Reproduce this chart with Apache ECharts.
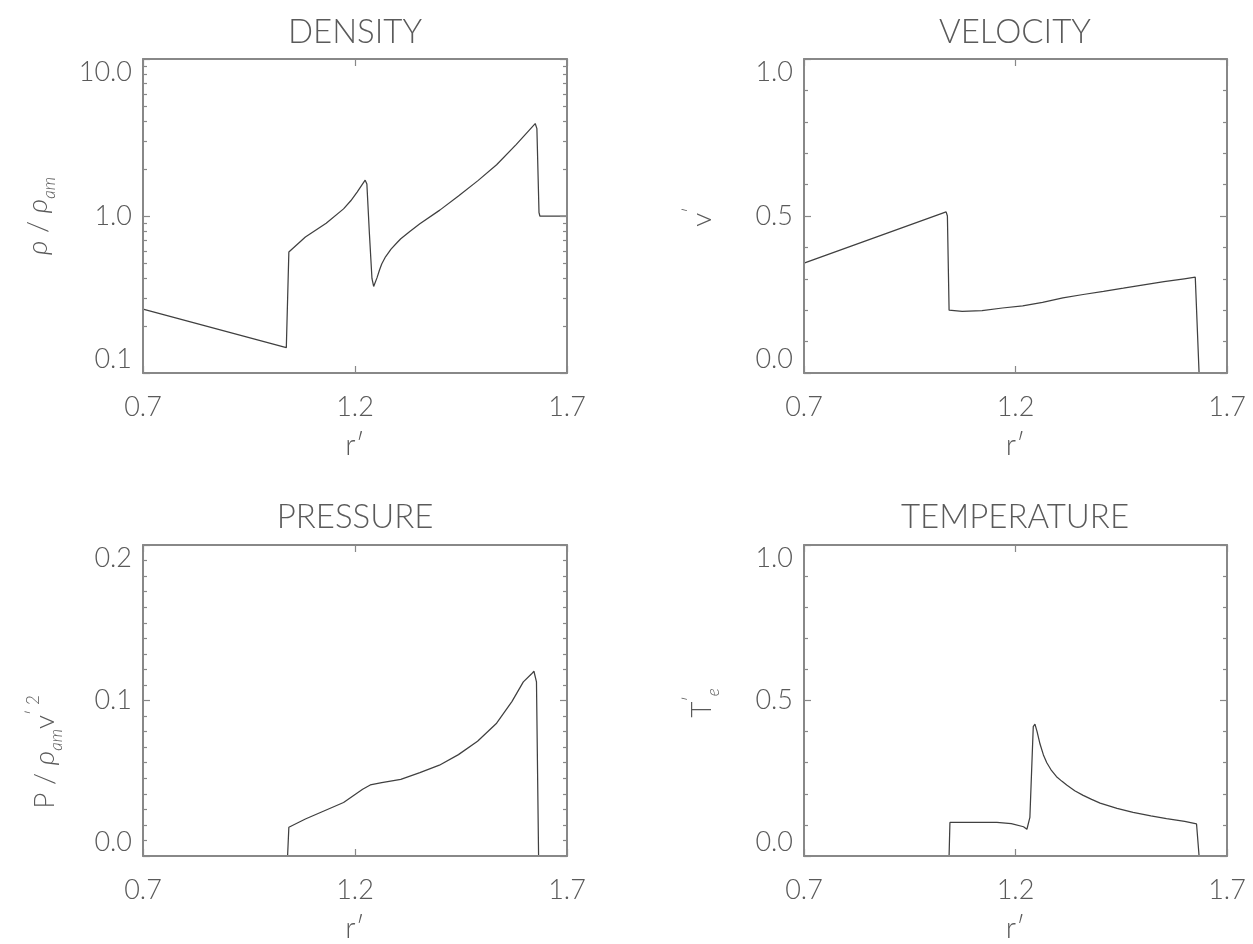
<!DOCTYPE html>
<html>
<head>
<meta charset="utf-8">
<script src="https://cdn.jsdelivr.net/npm/echarts@6/dist/echarts.min.js"></script>
<style>
  html, body { margin: 0; padding: 0; background: #ffffff; }
  #main { width: 1253px; height: 944px; }
</style>
</head>
<body>
<div id="main"></div>
<script>
// Radial coordinate ticks shared by all four panels
const xTicks = [0.7, 1.2, 1.7];

// Density profile (log scale)
const densityR   = [0.700, 1.038, 1.044, 1.083, 1.132, 1.173, 1.190, 1.205, 1.218, 1.224, 1.228, 1.234, 1.240, 1.244, 1.247, 1.252, 1.258, 1.263, 1.272, 1.285, 1.300, 1.308, 1.330, 1.353, 1.400, 1.444, 1.490, 1.534, 1.580, 1.610, 1.625, 1.629, 1.634, 1.636, 1.700];
const densityVal = [0.255, 0.145, 0.590, 0.735, 0.900, 1.110, 1.250, 1.420, 1.600, 1.690, 1.600, 0.770, 0.400, 0.356, 0.362, 0.405, 0.455, 0.495, 0.550, 0.615, 0.680, 0.716, 0.800, 0.893, 1.090, 1.340, 1.680, 2.120, 2.850, 3.500, 3.880, 3.600, 1.050, 1.000, 1.000];
const densityTicks = [0.1, 1, 10];
const densityMinorTicks = [0.2, 0.3, 0.4, 0.5, 0.6, 0.7, 0.8, 0.9, 2, 3, 4, 5, 6, 7, 8, 9];

// Velocity profile
const velocityR   = [0.700, 1.036, 1.039, 1.043, 1.074, 1.121, 1.169, 1.217, 1.264, 1.312, 1.360, 1.408, 1.455, 1.503, 1.551, 1.599, 1.625, 1.628, 1.634, 1.700];
const velocityVal = [0.350, 0.513, 0.500, 0.200, 0.196, 0.199, 0.207, 0.214, 0.225, 0.239, 0.250, 0.260, 0.270, 0.281, 0.291, 0.300, 0.305, 0.300, 0.000, 0.000];

// Pressure profile
const pressureR   = [0.700, 1.041, 1.044, 1.083, 1.128, 1.173, 1.218, 1.236, 1.263, 1.308, 1.353, 1.399, 1.444, 1.489, 1.534, 1.570, 1.597, 1.616, 1.622, 1.628, 1.633, 1.700];
const pressureVal = [0.000, 0.000, 0.0185, 0.0238, 0.0291, 0.0344, 0.0429, 0.0457, 0.0472, 0.0493, 0.0536, 0.0584, 0.0652, 0.0738, 0.0854, 0.0993, 0.1120, 0.1170, 0.1188, 0.1120, 0.000, 0.000];

// Electron temperature profile
const temperatureR   = [0.700, 1.043, 1.045, 1.100, 1.156, 1.190, 1.219, 1.227, 1.234, 1.242, 1.246, 1.251, 1.258, 1.266, 1.274, 1.285, 1.297, 1.310, 1.321, 1.340, 1.360, 1.380, 1.400, 1.440, 1.478, 1.520, 1.557, 1.600, 1.628, 1.634, 1.700];
const temperatureVal = [0.000, 0.000, 0.108, 0.108, 0.108, 0.104, 0.094, 0.086, 0.124, 0.416, 0.424, 0.400, 0.360, 0.325, 0.300, 0.275, 0.255, 0.240, 0.228, 0.210, 0.195, 0.182, 0.170, 0.153, 0.140, 0.129, 0.120, 0.111, 0.103, 0.000, 0.000];

const pairs = (xs, ys) => xs.map((x, i) => [x, ys[i]]);

const FONT = "Lato, 'DejaVu Sans', sans-serif";
const TEXT = '#5a5a5a';
const AXIS = '#888888';
const LINE = '#404040';

const grids = [
  { left: 143, top: 59,  width: 424, height: 314 },
  { left: 804, top: 59,  width: 423, height: 314 },
  { left: 143, top: 545, width: 424, height: 314 },
  { left: 804, top: 545, width: 423, height: 314 }
];

const axisLine = { show: true, onZero: false, lineStyle: { color: AXIS, width: 2 } };
const tickStyle = { color: AXIS, width: 1.2 };
const labelFont = { fontFamily: FONT, fontWeight: 300, fontSize: 27, color: TEXT };
const fmt1 = v => Number(v).toFixed(1);

function xAxesFor(gi) {
  const base = {
    gridIndex: gi, type: 'value', min: 0.7, max: 1.7, z: 10,
    splitLine: { show: false }, axisLine,
    axisTick: { show: true, inside: true, length: 7, customValues: xTicks, lineStyle: tickStyle }
  };
  return [
    Object.assign({}, base, {
      position: 'bottom',
      axisLabel: Object.assign({ customValues: xTicks, margin: 21, formatter: fmt1 }, labelFont),
      name: 'r\u2032', nameLocation: 'middle', nameGap: 58,
      nameTextStyle: { fontFamily: FONT, fontWeight: 300, fontSize: 29, color: TEXT }
    }),
    Object.assign({}, base, { position: 'top', axisLabel: { show: false } })
  ];
}

function yLinearFor(gi, max, interval, minorSplit) {
  const base = {
    gridIndex: gi, type: 'value', min: 0, max: max, interval: interval, z: 10,
    splitLine: { show: false }, axisLine,
    axisTick: { show: true, inside: true, length: 7, lineStyle: tickStyle },
    minorTick: { show: true, splitNumber: minorSplit, length: 4, lineStyle: tickStyle }
  };
  return [
    Object.assign({}, base, {
      position: 'left',
      axisLabel: Object.assign({ margin: 11, formatter: fmt1,
        verticalAlignMinLabel: 'bottom', verticalAlignMaxLabel: 'top' }, labelFont)
    }),
    Object.assign({}, base, { position: 'right', axisLabel: { show: false } })
  ];
}

function yLogFor(gi) {
  const base = {
    gridIndex: gi, type: 'log', logBase: 10, min: 0.1, max: 10, z: 10,
    splitLine: { show: false }, axisLine,
    axisTick: { show: true, inside: true, length: 7, customValues: densityTicks, lineStyle: tickStyle },
    minorTick: { show: false }
  };
  return [
    Object.assign({}, base, {
      position: 'left',
      axisLabel: Object.assign({ customValues: densityTicks, margin: 11, formatter: fmt1,
        verticalAlignMinLabel: 'bottom', verticalAlignMaxLabel: 'top' }, labelFont)
    }),
    Object.assign({}, base, { position: 'right', axisLabel: { show: false } })
  ];
}

const xAxis = [].concat(xAxesFor(0), xAxesFor(1), xAxesFor(2), xAxesFor(3));
const yAxis = [].concat(yLogFor(0), yLinearFor(1, 1, 0.5, 5), yLinearFor(2, 0.2, 0.1, 10), yLinearFor(3, 1, 0.5, 5));

function profile(gi, data) {
  return {
    type: 'line', xAxisIndex: gi * 2, yAxisIndex: gi * 2, data: data,
    showSymbol: false, symbol: 'none', smooth: false,
    lineStyle: { color: LINE, width: 1.25 }, z: 2
  };
}

// Inner minor ticks (2..9 per decade) on both sides of the log density axis
const logMinorSeries = {
  type: 'custom', xAxisIndex: 0, yAxisIndex: 0, silent: true, z: 3,
  data: densityMinorTicks.map(v => [0.7, v]),
  renderItem: function (params, api) {
    const cs = params.coordSys;
    const y = Math.round(api.coord([0.7, api.value(1)])[1]) + 0.5;
    const st = { stroke: AXIS, lineWidth: 1.2 };
    return {
      type: 'group',
      children: [
        { type: 'line', shape: { x1: cs.x, y1: y, x2: cs.x + 4, y2: y }, style: st },
        { type: 'line', shape: { x1: cs.x + cs.width, y1: y, x2: cs.x + cs.width - 4, y2: y }, style: st }
      ]
    };
  }
};

function titleText(x, y, text) {
  return {
    type: 'text', x: x, y: y, silent: true,
    style: { text: text, fontFamily: FONT, fontWeight: 300, fontSize: 33, fill: TEXT,
      align: 'center', verticalAlign: 'middle' }
  };
}

const richBase = {
  n:   { fontFamily: FONT, fontWeight: 300, fontSize: 28, fill: TEXT, lineHeight: 40, verticalAlign: 'middle' },
  i:   { fontFamily: FONT, fontWeight: 300, fontStyle: 'italic', fontSize: 28, fill: TEXT, lineHeight: 40, verticalAlign: 'middle' },
  sub: { fontFamily: FONT, fontWeight: 300, fontStyle: 'italic', fontSize: 17, fill: TEXT, lineHeight: 22, verticalAlign: 'bottom' },
  sup: { fontFamily: FONT, fontWeight: 300, fontSize: 17, fill: TEXT, lineHeight: 22, verticalAlign: 'top' }
};

function axisTitle(x, y, text) {
  return {
    type: 'text', x: x, y: y, rotation: Math.PI / 2, silent: true,
    style: { text: text, rich: richBase, align: 'center', verticalAlign: 'middle' }
  };
}

const option = {
  animation: false,
  backgroundColor: '#ffffff',
  grid: grids,
  xAxis: xAxis,
  yAxis: yAxis,
  series: [
    profile(0, pairs(densityR, densityVal)),
    logMinorSeries,
    profile(1, pairs(velocityR, velocityVal)),
    profile(2, pairs(pressureR, pressureVal)),
    profile(3, pairs(temperatureR, temperatureVal))
  ],
  graphic: [
    titleText(355, 32, 'DENSITY'),
    titleText(1015, 32, 'VELOCITY'),
    titleText(355, 517, 'PRESSURE'),
    titleText(1015, 517, 'TEMPERATURE'),
    axisTitle(38, 216, '{i|\u03c1}{n| / }{i|\u03c1}{sub|am}'),
    axisTitle(702, 217, '{n|v}{sup|\u2032}'),
    axisTitle(45, 752, '{n|P / }{i|\u03c1}{sub|am}{n|v}{sup|\u2032 2}'),
    axisTitle(702, 703, '{n|T}{sup|\u2032}{sub|e}')
  ]
};

const chart = echarts.init(document.getElementById('main'), null, { renderer: 'canvas' });
chart.setOption(option);
</script>
</body>
</html>
